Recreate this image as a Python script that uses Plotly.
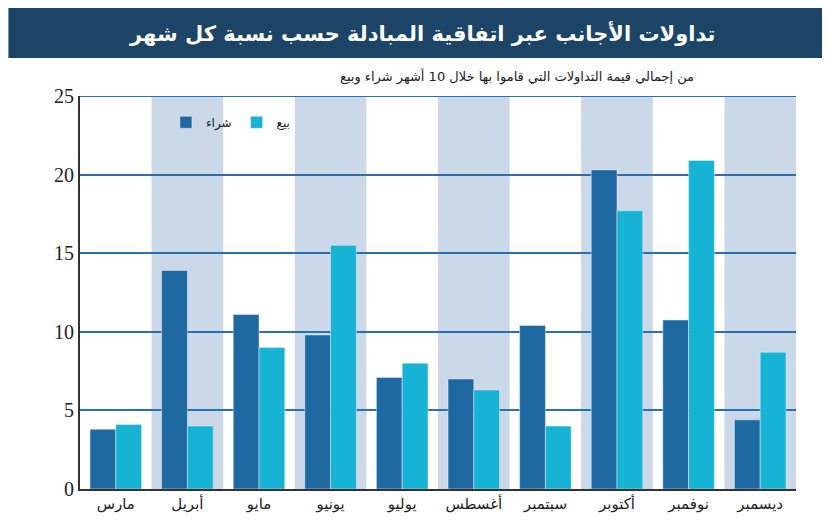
import plotly.graph_objects as go

months = ["مارس","أبريل","مايو","يونيو","يوليو","أغسطس","سبتمبر","أكتوبر","نوفمبر","ديسمبر"]
buy = [3.8, 13.9, 11.1, 9.8, 7.1, 7.0, 10.4, 20.3, 10.75, 4.4]
sell = [4.1, 4.0, 9.0, 15.5, 8.0, 6.3, 4.0, 17.7, 20.9, 8.7]
y_ticks = [0, 5, 10, 15, 20, 25]

fig = go.Figure()
fig.add_bar(x=months, y=buy, name="شراء", marker_color="#1f69a3")
fig.add_bar(x=months, y=sell, name="بيع", marker_color="#17b3d4")

shapes = []
for i in range(1, len(months), 2):
    shapes.append(dict(type="rect", xref="x", yref="paper", x0=i-0.5, x1=i+0.5, y0=0, y1=1,
                       fillcolor="#cbd8e7", line_width=0, layer="below"))
shapes.append(dict(type="rect", xref="paper", yref="paper", x0=-0.1, x1=1.06, y0=1.097, y1=1.23,
                   fillcolor="#1c4466", line_width=0, layer="below"))
shapes.append(dict(type="line", xref="paper", yref="y", x0=0, x1=1, y0=25, y1=25,
                   line=dict(color="#2a6fb0", width=2)))
fig.update_layout(
    width=830, height=528,
    paper_bgcolor="white", plot_bgcolor="white",
    margin=dict(l=72, r=42, t=88, b=47),
    barmode="group", bargap=0.28, bargroupgap=0.0,
    shapes=shapes,
    font=dict(family="DejaVu Sans", color="#222"),
    showlegend=True,
    legend=dict(x=0.12, y=0.97, orientation="h", bgcolor="rgba(0,0,0,0)",
                font=dict(size=12), traceorder="normal"),
    xaxis=dict(tickfont=dict(size=15, color="#222", family="DejaVu Sans"),
               showline=True, linecolor="#333", linewidth=2, ticks=""),
    yaxis=dict(range=[0, 25], tickvals=y_ticks, tickfont=dict(size=20, family="Liberation Serif"),
               showgrid=True, gridcolor="#2a6fb0", gridwidth=2, showline=True,
               linecolor="#333", linewidth=2, zeroline=False, ticks=""),
    annotations=[
        dict(text="<b>تداولات الأجانب عبر اتفاقية المبادلة حسب نسبة كل شهر</b>", xref="paper", yref="paper",
             x=0.478, y=1.16, xanchor="center", yanchor="middle", showarrow=False,
             font=dict(size=21, color="white")),
        dict(text="من إجمالي قيمة التداولات التي قاموا بها خلال 10 أشهر شراء وبيع", xref="paper", yref="paper",
             x=0.86, y=1.05, xanchor="right", yanchor="middle", showarrow=False,
             font=dict(size=13, color="#222")),
    ],
)
fig.write_html("out.html")
